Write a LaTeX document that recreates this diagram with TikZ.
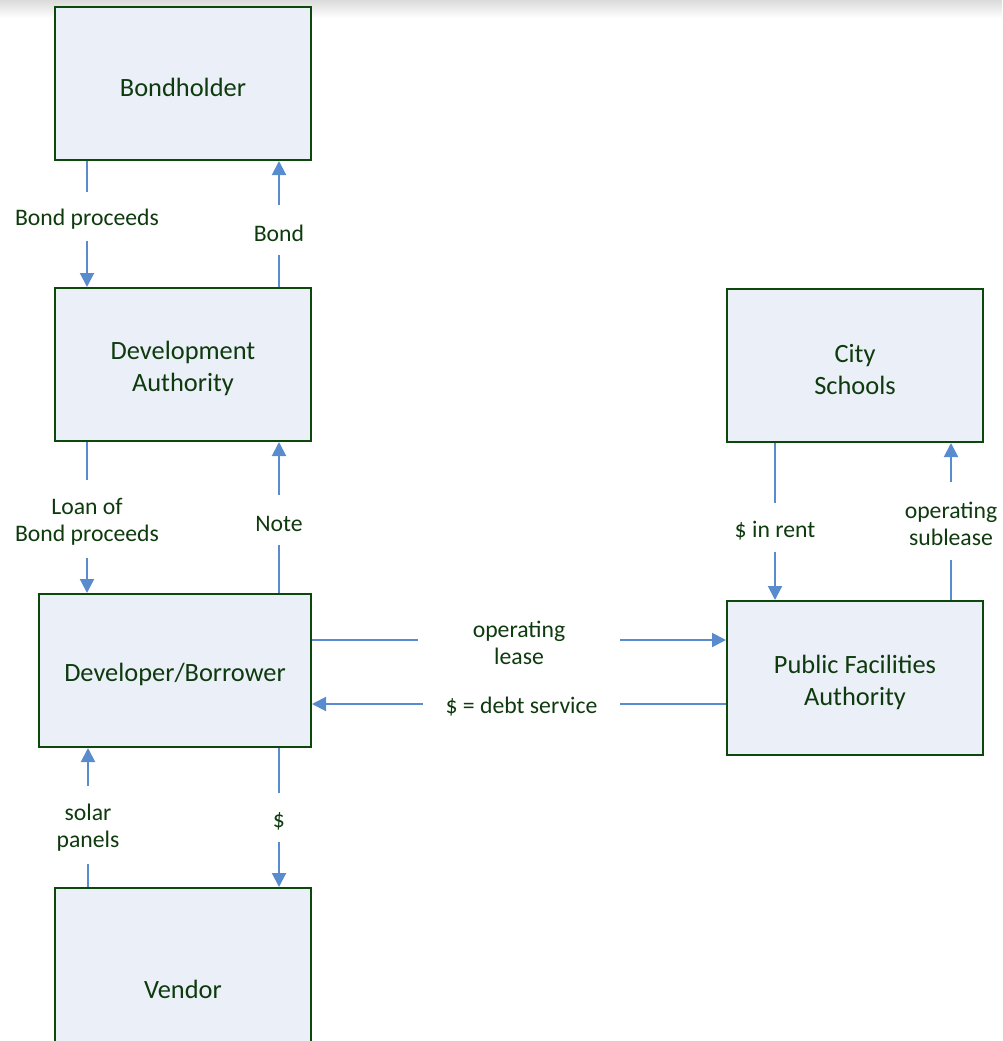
\documentclass[tikz,border=0pt]{standalone}
\usepackage{fontspec}
\setmainfont{Carlito}
\usepackage{xcolor}
\usetikzlibrary{arrows.meta,positioning}

\definecolor{boxline}{RGB}{12,72,12}
\definecolor{boxfill}{RGB}{234,239,248}
\definecolor{txtgreen}{RGB}{14,58,14}
\definecolor{flowblue}{RGB}{88,140,206}

% raises the first line's height, so the text sits a little lower
\newcommand{\lift}[1]{\rule{0pt}{#1em}}

\tikzset{
  party/.style={draw=boxline, line width=2pt, fill=boxfill, minimum width=256pt,
    minimum height=153pt, align=center, text=txtgreen,
    font=\fontsize{26.4}{32}\selectfont, inner sep=0pt},
  tag/.style={align=center, text=txtgreen, font=\fontsize{23.7}{27}\selectfont,
    inner sep=0pt, minimum height=49pt},
  tagtwo/.style={tag, minimum height=78pt},
  flowline/.style={draw=flowblue, line width=2pt},
  flow/.style={flowline, -{Triangle[width=14pt,length=14pt]}}
}

\begin{document}
\begin{tikzpicture}[x=1pt,y=-1pt]
\useasboundingbox (0,0) rectangle (1002,1041);
\clip (0,0) rectangle (1002,1041);
\shade[top color=black!14, bottom color=white] (0,0) rectangle (1002,18);

\node[party] (bondholder) at (183,83.5) {\lift{1}Bondholder};
\node[party] (devauth) at (183,364.5) {\lift{1}Development\\Authority};
\node[party, minimum width=272pt] (developer) at (175,670.5) {\lift{1}Developer/Borrower};
\node[party, minimum height=194pt] (vendor) at (183,985) {\lift{1}Vendor};
\node[party] (schools) at (855,365.5) {\lift{1}City\\Schools};
\node[party, minimum height=154pt] (pfa) at (855,678) {\lift{1}Public Facilities\\Authority};

\node[tag] (proceedslbl) at (87,216.5) {\lift{0.95}Bond proceeds};
\node[tag] (bondlbl) at (279,230) {\lift{0.95}Bond};
\node[tagtwo] (loanlbl) at (87,519) {\lift{0.95}Loan of\\Bond proceeds};
\node[tag] (notelbl) at (279,520) {\lift{0.95}Note};
\node[tagtwo] (solarlbl) at (88,825) {\lift{0.95}solar\\panels};
\node[tag] (paylbl) at (279,817.5) {\lift{0.95}\$};
\node[tag] (rentlbl) at (775,527.5) {\lift{0.95}\$ in rent};
\node[tagtwo] (subleaselbl) at (951,521) {\lift{0.95}operating\\sublease};
\node[tag, minimum width=202pt] (leaselbl) at (519,640) {\lift{0.95}operating\\lease};
\node[tag, minimum width=197pt] (debtlbl) at (521.5,704) {\lift{0.95}\$ = debt service};

\draw[flowline] (bondholder.south -| proceedslbl) -- (proceedslbl.north);
\draw[flow] (proceedslbl.south) -- (devauth.north -| proceedslbl);
\draw[flowline] (devauth.north -| bondlbl) -- (bondlbl.south);
\draw[flow] (bondlbl.north) -- (bondholder.south -| bondlbl);

\draw[flowline] (devauth.south -| loanlbl) -- (loanlbl.north);
\draw[flow] (loanlbl.south) -- (developer.north -| loanlbl);
\draw[flowline] (developer.north -| notelbl) -- (notelbl.south);
\draw[flow] (notelbl.north) -- (devauth.south -| notelbl);

\draw[flowline] (vendor.north -| solarlbl) -- (solarlbl.south);
\draw[flow] (solarlbl.north) -- (developer.south -| solarlbl);
\draw[flowline] (developer.south -| paylbl) -- (paylbl.north);
\draw[flow] (paylbl.south) -- (vendor.north -| paylbl);

\draw[flowline] (schools.south -| rentlbl) -- (rentlbl.north);
\draw[flow] (rentlbl.south) -- (pfa.north -| rentlbl);
\draw[flowline] (pfa.north -| subleaselbl) -- (subleaselbl.south);
\draw[flow] (subleaselbl.north) -- (schools.south -| subleaselbl);

\draw[flowline] (developer.east |- leaselbl.west) -- (leaselbl.west);
\draw[flow] (leaselbl.east) -- (pfa.west |- leaselbl.east);
\draw[flowline] (pfa.west |- debtlbl.east) -- (debtlbl.east);
\draw[flow] (debtlbl.west) -- (developer.east |- debtlbl.west);
\end{tikzpicture}
\end{document}
